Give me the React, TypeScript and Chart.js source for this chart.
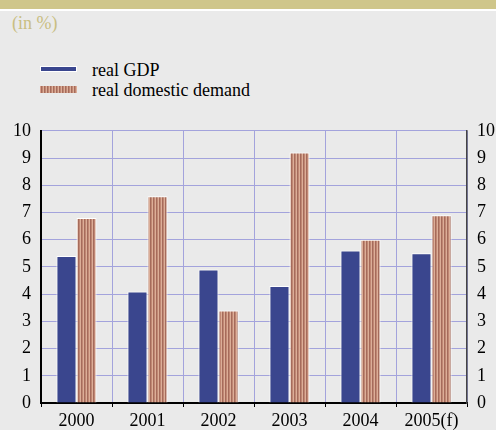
import React, { useEffect, useRef } from "react";
import { Chart, registerables } from "chart.js";

Chart.register(...registerables);

const categories = ["2000", "2001", "2002", "2003", "2004", "2005(f)"];
const realGDP = [5.4, 4.1, 4.9, 4.3, 5.6, 5.5];
const realDomesticDemand = [6.8, 7.6, 3.4, 9.2, 6.0, 6.9];
const seriesNames = ["real GDP", "real domestic demand"];
const unitLabel = "(in %)";

const FONT = "Tinos, 'Times New Roman', 'Liberation Serif', serif";
const BLUE = "#3a468e";
const DARK = "#a56b5b";
const MID = "#c08773";
const LIGHT = "#dcae98";
const GRID = "#a3a3dc";

Chart.defaults.font.family = FONT;

function makeStripePattern(): CanvasPattern | string {
  const c = document.createElement("canvas");
  c.width = 3;
  c.height = 4;
  const ctx = c.getContext("2d");
  if (!ctx) return MID;
  ctx.fillStyle = DARK;
  ctx.fillRect(0, 0, 1, 4);
  ctx.fillStyle = MID;
  ctx.fillRect(1, 0, 1, 4);
  ctx.fillStyle = LIGHT;
  ctx.fillRect(2, 0, 1, 4);
  const p = ctx.createPattern(c, "repeat");
  return p || MID;
}

const textStyle = (left: number, top: number, color: string): React.CSSProperties => ({
  position: "absolute",
  left,
  top,
  fontSize: 18,
  lineHeight: "20px",
  color,
  fontFamily: FONT,
  whiteSpace: "nowrap",
});

export default function App() {
  const ref = useRef<HTMLCanvasElement | null>(null);

  useEffect(() => {
    let chart: Chart | null = null;
    let cancelled = false;
    const build = () => {
      if (cancelled || !ref.current) return;
      const stripes = makeStripePattern();
      chart = new Chart(ref.current, {
        type: "bar",
        data: {
          labels: categories,
          datasets: [
            {
              label: seriesNames[0],
              data: realGDP,
              backgroundColor: BLUE,
              borderColor: "#ffffff",
              borderWidth: 1,
              categoryPercentage: 0.565,
              barPercentage: 1.0,
            },
            {
              label: seriesNames[1],
              data: realDomesticDemand,
              backgroundColor: stripes as any,
              borderColor: "#ffffff",
              borderWidth: 1,
              categoryPercentage: 0.565,
              barPercentage: 1.0,
            },
          ],
        },
        options: {
          animation: false,
          responsive: false,
          maintainAspectRatio: false,
          layout: { padding: { top: 16, left: 0, right: 0, bottom: 0 } },
          plugins: { legend: { display: false }, tooltip: { enabled: false } },
          scales: {
            x: {
              grid: {
                offset: true,
                color: GRID,
                lineWidth: 1,
                tickColor: "#000000",
                tickLength: 4,
              },
              border: { color: "#000000", width: 2 },
              ticks: { color: "#000000", font: { family: FONT, size: 18 }, padding: 3 },
              afterFit: (s: any) => {
                s.height = 27;
              },
            },
            y: {
              position: "left",
              min: 0,
              max: 10,
              grid: { color: GRID, lineWidth: 1, drawTicks: false },
              border: { color: "#000000", width: 2 },
              ticks: {
                stepSize: 1,
                color: "#000000",
                font: { family: FONT, size: 18 },
                padding: 10,
              },
              afterFit: (s: any) => {
                s.width = 41;
              },
            },
            y2: {
              position: "right",
              min: 0,
              max: 10,
              grid: { display: false, drawTicks: false },
              border: { color: "#444444", width: 1.5 },
              ticks: {
                stepSize: 1,
                color: "#000000",
                font: { family: FONT, size: 18 },
                padding: 10,
              },
              afterFit: (s: any) => {
                s.width = 29;
              },
            },
          },
        },
      });
    };
    const fonts = (document as any).fonts;
    if (fonts && fonts.load) {
      Promise.all([fonts.load("18px Tinos"), fonts.load("18px 'Liberation Serif'")]).then(build, build);
    } else {
      build();
    }
    return () => {
      cancelled = true;
      if (chart) chart.destroy();
    };
  }, []);

  return (
    <div
      style={{
        position: "absolute",
        left: 0,
        top: 0,
        width: 496,
        height: 430,
        background: "#eaeaea",
        overflow: "hidden",
      }}
    >
      <div style={{ position: "absolute", left: 0, top: 0, width: 496, height: 9, background: "#cfc68a" }} />
      <div style={{ position: "absolute", left: 0, top: 9, width: 496, height: 2, background: "#ffffff" }} />
      <div style={textStyle(12, 13, "#c9be82")}>{unitLabel}</div>
      <div
        style={{
          position: "absolute",
          left: 40,
          top: 66,
          width: 35,
          height: 4,
          background: BLUE,
          border: "1px solid #ffffff",
        }}
      />
      <div style={textStyle(92, 60, "#000")}>{seriesNames[0]}</div>
      <div
        style={{
          position: "absolute",
          left: 40,
          top: 86,
          width: 36,
          height: 7,
          background: `repeating-linear-gradient(90deg, ${DARK} 0px, ${DARK} 1px, ${MID} 1px, ${MID} 2px, ${LIGHT} 2px, ${LIGHT} 3px)`,
          borderLeft: "1px solid #d9a08c",
        }}
      />
      <div style={textStyle(92, 80, "#000")}>{seriesNames[1]}</div>
      <canvas
        ref={ref}
        width={496}
        height={320}
        style={{ position: "absolute", left: 0, top: 110, width: 496, height: 320 }}
      />
    </div>
  );
}
